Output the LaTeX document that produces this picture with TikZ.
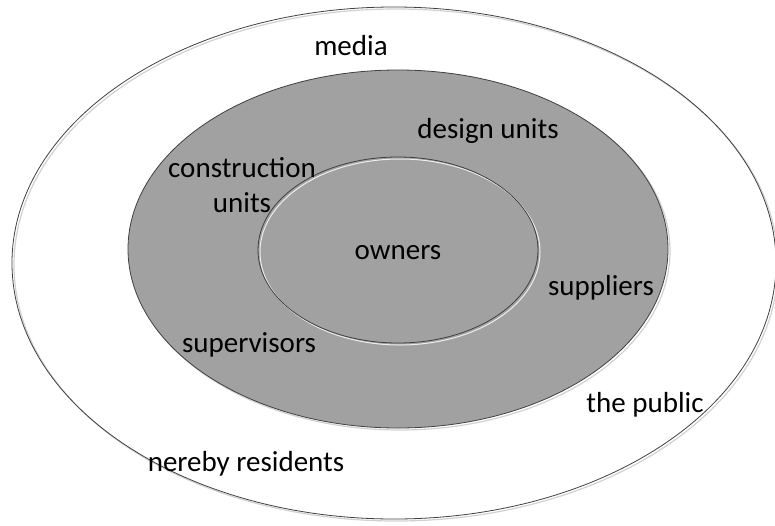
\documentclass[tikz,border=0pt]{standalone}
\usepackage{fontspec}
\setmainfont{Carlito}
\begin{document}
\begin{tikzpicture}[x=1pt,y=-1pt,
  ring/.style={draw=black!75,line width=0.8pt},
  ringshade/.style={draw=black!18,line width=1.2pt},
  lbl/.style={font=\fontsize{29}{35}\selectfont,text=black,inner sep=0pt,align=center}]
\useasboundingbox (0,0) rectangle (775,525);
% outer ring
\draw[ringshade] (396,265) ellipse [x radius=382,y radius=256];
\draw[ring] (394,263) ellipse [x radius=382,y radius=256];
% shaded middle ring
\draw[ringshade] (400,251) ellipse [x radius=270,y radius=179];
\draw[ring,fill=black!37] (398,249) ellipse [x radius=270,y radius=179];
% inner ring
\draw[draw=white!80!black!37,line width=1pt] (400,252) ellipse [x radius=140,y radius=93];
\draw[ring] (398,250) ellipse [x radius=140,y radius=93];
% labels
\node[lbl] (media) at (351,46) {media};
\node[lbl] (design) at (488,131) {design units};
\node[lbl] (constr) at (242,185) {construction\\units};
\node[lbl] (owners) at (398,253) {owners};
\node[lbl] (suppl) at (601,288) {suppliers};
\node[lbl] (superv) at (249,345) {supervisors};
\node[lbl] (public) at (645,405) {the public};
\node[lbl] (resid) at (246,464) {nereby residents};
\end{tikzpicture}
\end{document}
